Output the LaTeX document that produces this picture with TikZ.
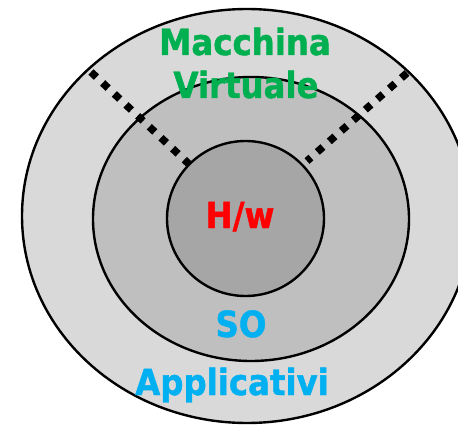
\documentclass[tikz,border=0pt]{standalone}
\usepackage{fontspec}
\newfontfamily\labelfont[FakeStretch=0.9,FakeBold=1.2]{DejaVu Sans Bold}
\definecolor{ringA}{HTML}{D9D9D9}
\definecolor{ringB}{HTML}{BFBFBF}
\definecolor{ringC}{HTML}{A6A6A6}
\definecolor{vmgreen}{HTML}{00B050}
\definecolor{oscyan}{HTML}{00B0F0}
\definecolor{hwred}{HTML}{FF0000}
\begin{document}
\begin{tikzpicture}[x=1pt,y=-1pt,
  ring/.style={draw=black,line width=2.4pt},
  sep/.style={line width=7.5pt,dash pattern=on 7.5pt off 8.5pt},
  lbl/.style={font=\labelfont\fontsize{36}{36}\selectfont,anchor=base,inner sep=0pt}]
  \useasboundingbox (0,0) rectangle (458,425);
  \clip (0,0) rectangle (458,425);
  % concentric layers
  \draw[ring,fill=ringA] (247,216) ellipse [x radius=225,y radius=207];
  \draw[ring,fill=ringB] (251,219) ellipse [x radius=158,y radius=142];
  \draw[ring,fill=ringC] (245.5,218.5) ellipse [x radius=78.5,y radius=77.5];
  % boundaries of the virtual machine sector
  \coordinate (l1) at (91,72);
  \coordinate (l2) at (190,165);
  \coordinate (r1) at (407,73);
  \coordinate (r2) at (307,161);
  \draw[sep] (l1) -- (l2);
  \draw[sep] (r1) -- (r2);
  % labels
  \node[lbl,text=vmgreen] (vm1) at (245,55) {Macchina};
  \node[lbl,text=vmgreen] (vm2) at (246,98) {Virtuale};
  \node[lbl,text=hwred] (hw) at (240,228) {H/w};
  \node[lbl,text=oscyan] (so) at (241,337) {SO};
  \node[lbl,text=oscyan] (app) at (232,395) {Applicativi};
\end{tikzpicture}
\end{document}
